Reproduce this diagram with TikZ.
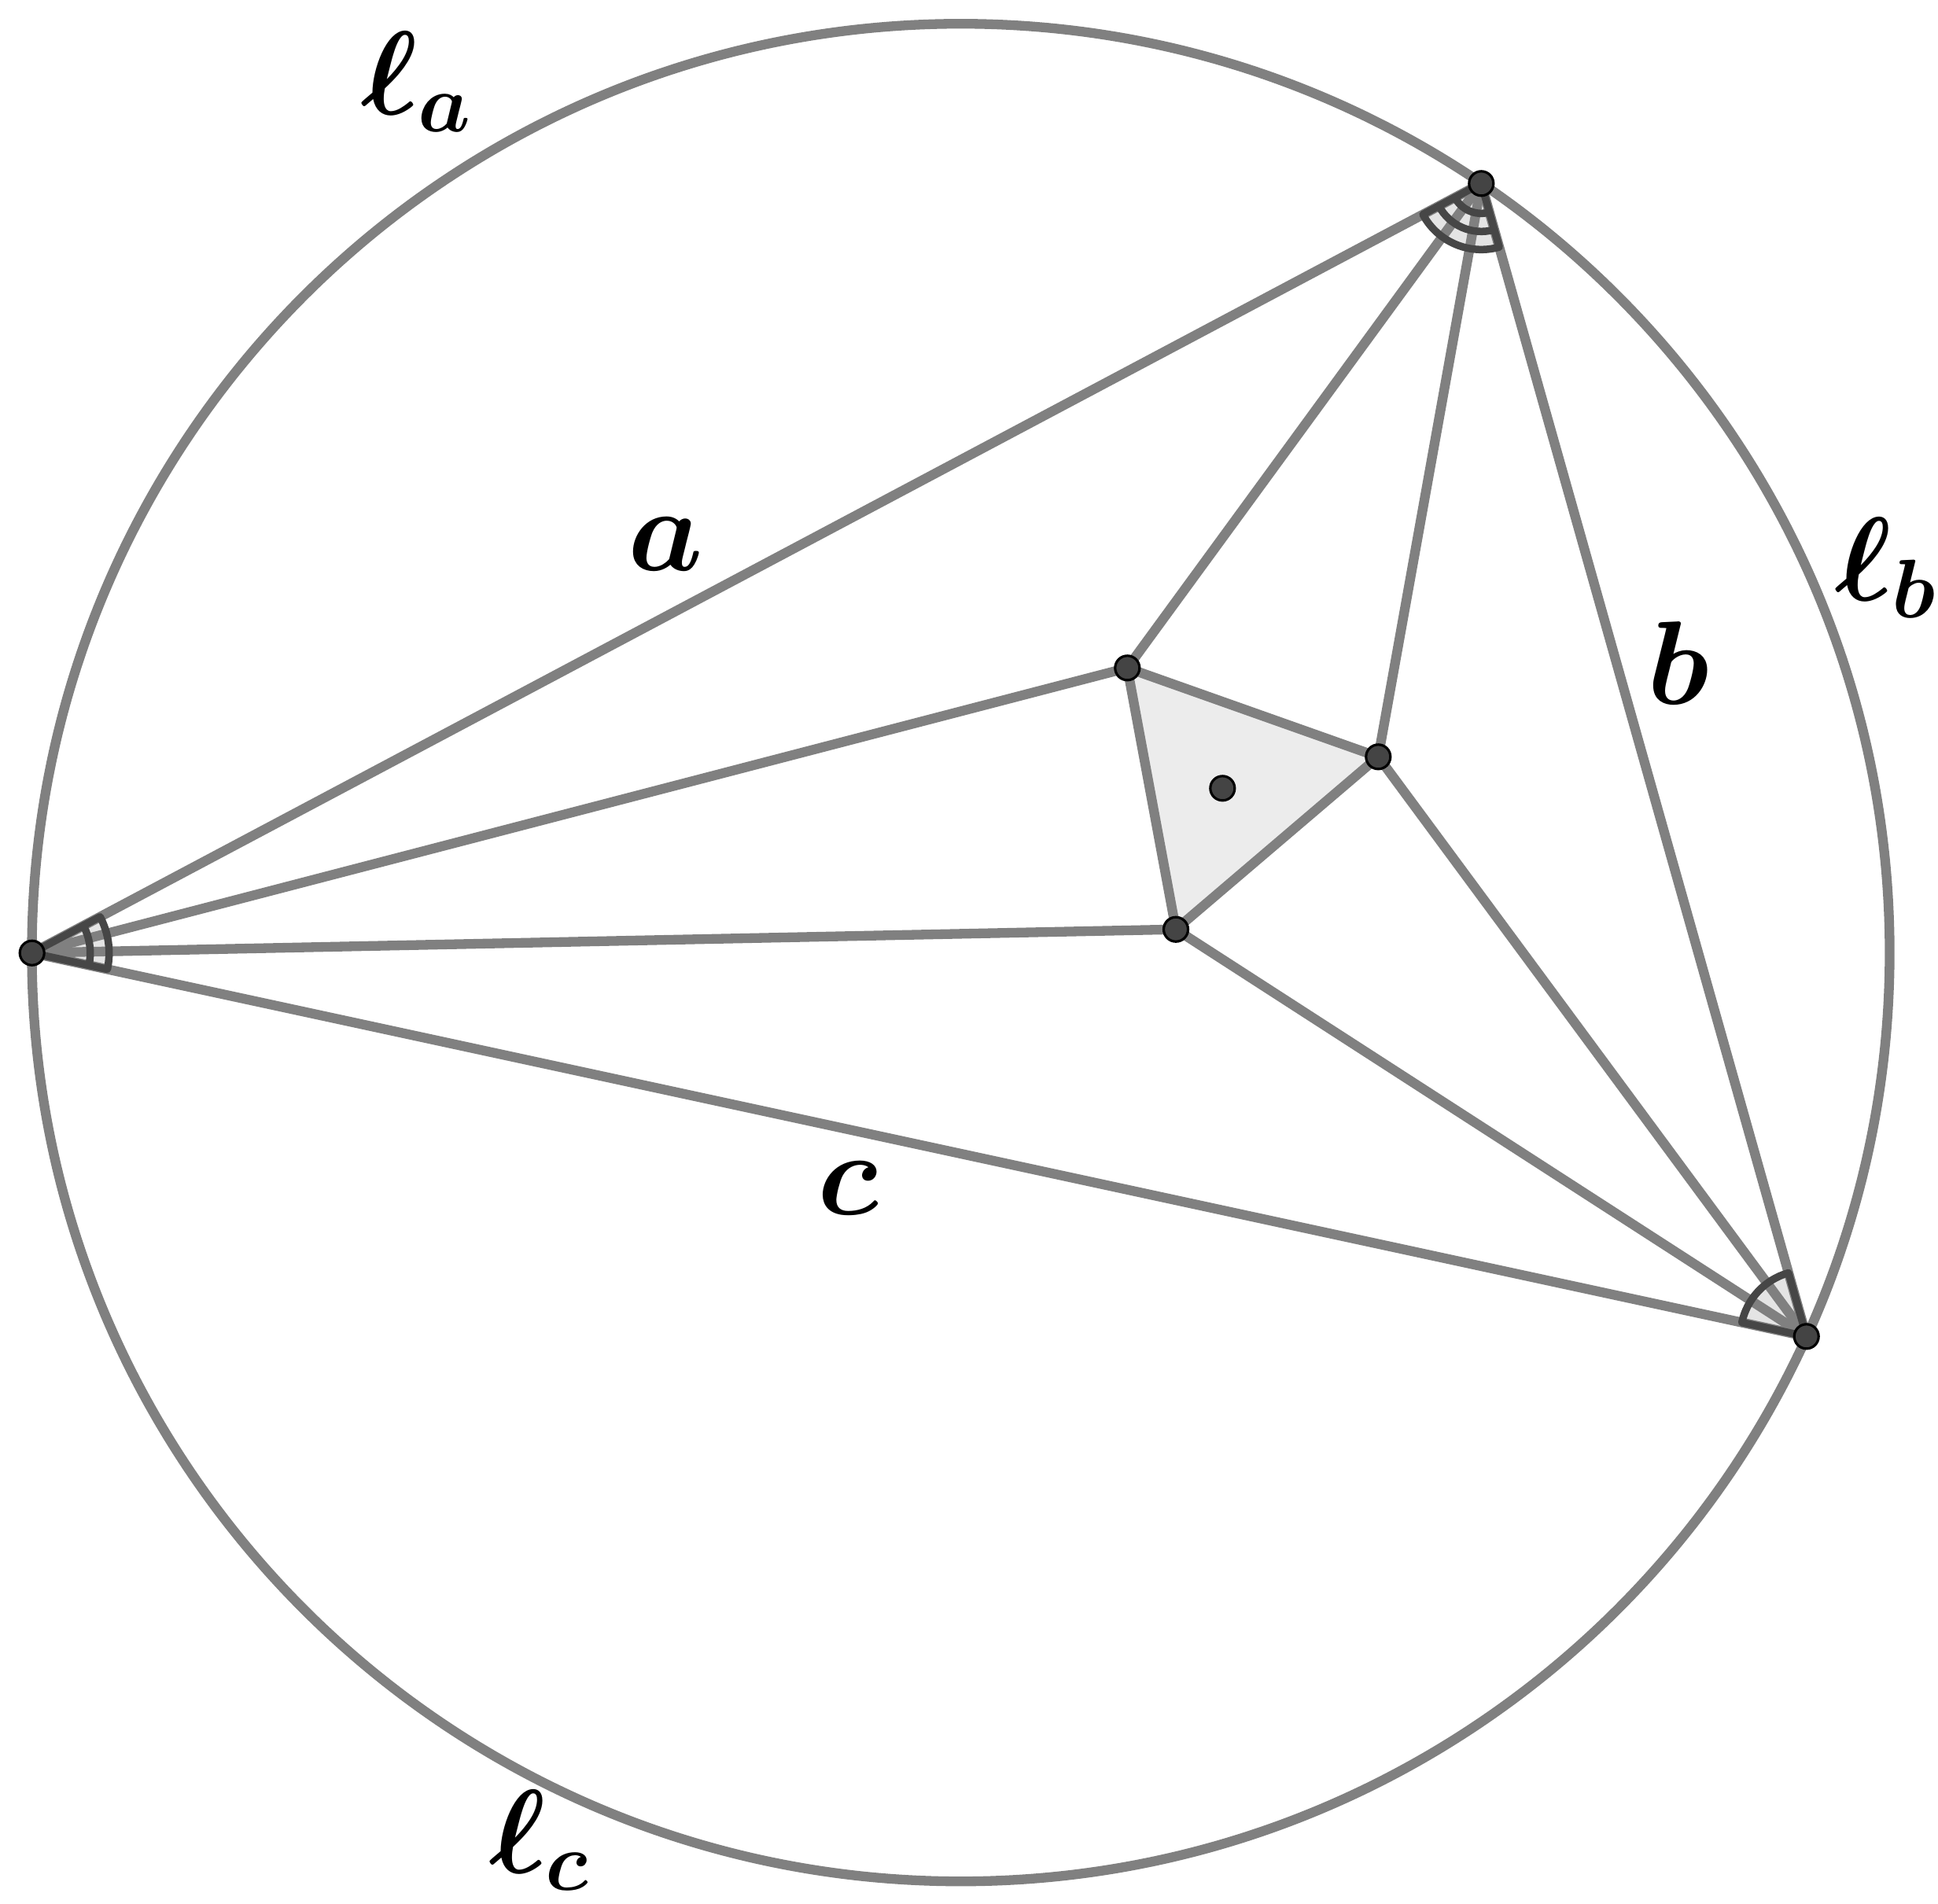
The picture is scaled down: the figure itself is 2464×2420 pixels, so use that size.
\RequirePackage{fix-cm}
\documentclass[tikz,border=0pt]{standalone}
\usepackage{amsmath}
\definecolor{linegray}{RGB}{128,128,128}
\definecolor{dotgray}{RGB}{68,68,68}
\definecolor{arcgray}{RGB}{70,70,70}
\definecolor{secfill}{RGB}{228,228,228}
\definecolor{trifill}{RGB}{236,236,236}
\begin{document}
\begin{tikzpicture}[x=0.01cm,y=0.01cm,
  geo/.style={draw=linegray,line width=3.5pt,line cap=round,line join=round},
  anglearc/.style={draw=arcgray,line width=2.7pt,line cap=round,line join=round},
  anglefill/.style={fill=secfill},
  pt/.style={circle,fill=dotgray,draw=black,line width=0.9pt,inner sep=0pt,minimum size=0.31cm},
  lbl/.style={font=\fontsize{43}{50}\selectfont\boldmath,inner sep=0pt}]
\useasboundingbox (0,0) rectangle (2464,-2420);
\coordinate (O) at (1221.5,-1211.2);
\coordinate (A) at (40.7,-1211.7);
\coordinate (B) at (1883.3,-233.3);
\coordinate (C) at (2296.7,-1699.3);
\coordinate (P) at (1433.3,-849.3);
\coordinate (Q) at (1752.3,-962.3);
\coordinate (R) at (1495,-1181.7);
\coordinate (G) at (1554.3,-1002.3);

% angle sectors (fill)
\fill[anglefill] (A) -- ++(27.97:98) arc[start angle=27.97,end angle=-12.20,radius=98] -- cycle;
\fill[anglefill] (B) -- ++(207.97:84) arc[start angle=207.97,end angle=285.75,radius=84] -- cycle;
\fill[anglefill] (C) -- ++(105.75:84) arc[start angle=105.75,end angle=167.80,radius=84] -- cycle;

% Morley triangle fill
\fill[trifill] (P) -- (Q) -- (R) -- cycle;

% circle and lines
\draw[geo] (O) circle[radius=1181];
\draw[geo] (A) -- (B) -- (C) -- cycle;
\draw[geo] (A) -- (P) -- (B);
\draw[geo] (B) -- (Q) -- (C);
\draw[geo] (C) -- (R) -- (A);
\draw[geo] (P) -- (Q) -- (R) -- cycle;

% angle marks
\draw[anglearc] (A) -- ++(27.97:98) arc[start angle=27.97,end angle=-12.20,radius=98] -- cycle;
\draw[anglearc] (A) ++(27.97:74) arc[start angle=27.97,end angle=-12.20,radius=74];
\draw[anglearc] (B) -- ++(207.97:84) arc[start angle=207.97,end angle=285.75,radius=84] -- cycle;
\draw[anglearc] (B) ++(207.97:61) arc[start angle=207.97,end angle=285.75,radius=61];
\draw[anglearc] (B) ++(207.97:38) arc[start angle=207.97,end angle=285.75,radius=38];
\draw[anglearc] (C) -- ++(105.75:84) arc[start angle=105.75,end angle=167.80,radius=84] -- cycle;

% points
\node[pt] (dA) at (A) {};
\node[pt] (dB) at (B) {};
\node[pt] (dC) at (C) {};
\node[pt] (dP) at (P) {};
\node[pt] (dQ) at (Q) {};
\node[pt] (dR) at (R) {};
\node[pt] (dG) at (G) {};

% labels
\node[lbl] (la) at (530,-104) {$\ell_a$};
\node[lbl] (lb) at (2398,-722) {$\ell_b$};
\node[lbl] (lc) at (686,-2340) {$\ell_c$};
\node[lbl] (sa) at (846,-692) {$a$};
\node[lbl] (sb) at (2134,-843) {$b$};
\node[lbl] (sc) at (1078,-1511) {$c$};
\end{tikzpicture}
\end{document}
